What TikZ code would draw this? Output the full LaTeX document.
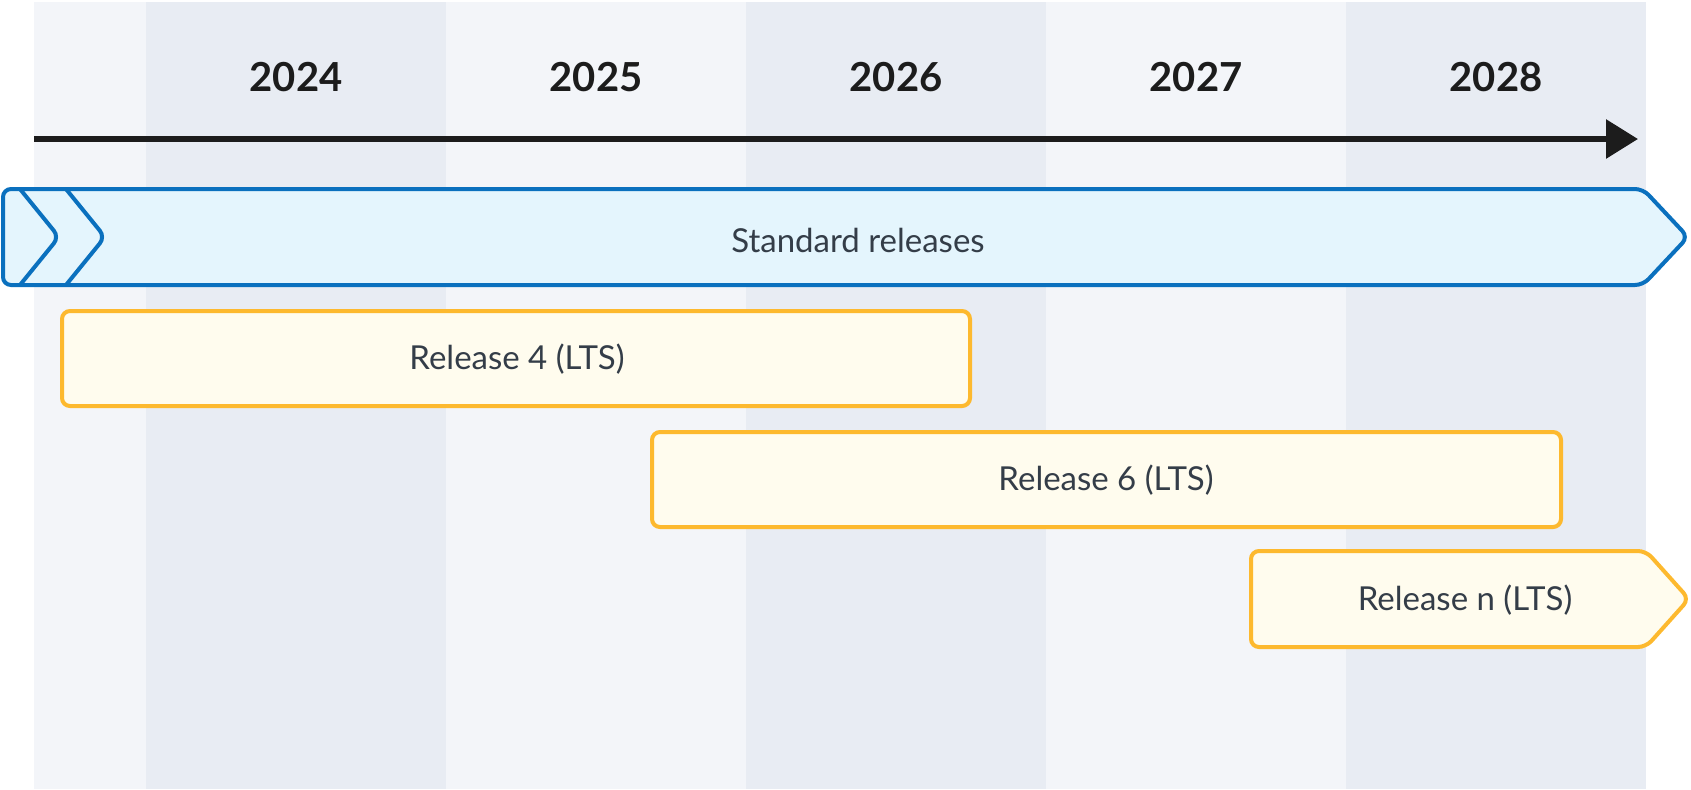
\documentclass[tikz,border=0pt]{standalone}
\usepackage{fontspec}
\setmainfont{Lato}
\usetikzlibrary{arrows.meta}
\definecolor{colLight}{HTML}{F3F5F9}
\definecolor{colDark}{HTML}{E8ECF3}
\definecolor{stdBlue}{HTML}{0A70BE}
\definecolor{stdFill}{HTML}{E4F5FD}
\definecolor{ltsYellow}{HTML}{FDB92E}
\definecolor{ltsFill}{HTML}{FFFCEE}
\definecolor{labelText}{HTML}{343D48}
\definecolor{yearText}{HTML}{1C1C1C}
\tikzset{
    year/.style={font=\fontsize{20}{24}\selectfont\bfseries, text=yearText},
    barlabel/.style={font=\fontsize{16.5}{20}\selectfont, text=labelText},
    stdbar/.style={draw=stdBlue, fill=stdFill, line width=2pt, rounded corners=4pt},
    ltsbar/.style={draw=ltsYellow, fill=ltsFill, line width=2pt, rounded corners=4pt},
}
\begin{document}
\begin{tikzpicture}[x=0.5pt,y=-0.5pt]
    \useasboundingbox (0,0) rectangle (1691,789);
    \fill[colLight] (34,2) rectangle (1646,789);
    \foreach \xa in {146,746,1346}
        \fill[colDark] (\xa,2) rectangle ++(300,787);
    \foreach \yr [count=\i from 0] in {2024,2025,2026,2027,2028}
        \node[year] (y\yr) at (296+300*\i,77) {\yr};
    \coordinate (t0) at (34,139);
    \coordinate (t1) at (1638,139);
    \draw[line width=3pt, yearText, -{Triangle[length=16pt,width=19pt]}] (t0) -- (t1);
    \draw[stdbar] (3,189) -- (1643,189) -- (1688,237) -- (1643,285) -- (3,285) -- cycle;
    \draw[stdBlue, line width=2pt, rounded corners=4pt, line join=round] (20,189) -- (59,237) -- (20,285);
    \draw[stdBlue, line width=2pt, rounded corners=4pt, line join=round] (66,189) -- (105,237) -- (66,285);
    \node[barlabel] (std) at (858,240) {Standard releases};
    \draw[ltsbar] (62,311) rectangle (970,406);
    \node[barlabel] (rel4) at (517,359) {Release 4 (LTS)};
    \draw[ltsbar] (652,432) rectangle (1561,527);
    \node[barlabel] (rel6) at (1106,480) {Release 6 (LTS)};
    \draw[ltsbar] (1251,551) -- (1646,551) -- (1689,599) -- (1646,647) -- (1251,647) -- cycle;
    \node[barlabel] (reln) at (1465,600) {Release n (LTS)};
\end{tikzpicture}
\end{document}
